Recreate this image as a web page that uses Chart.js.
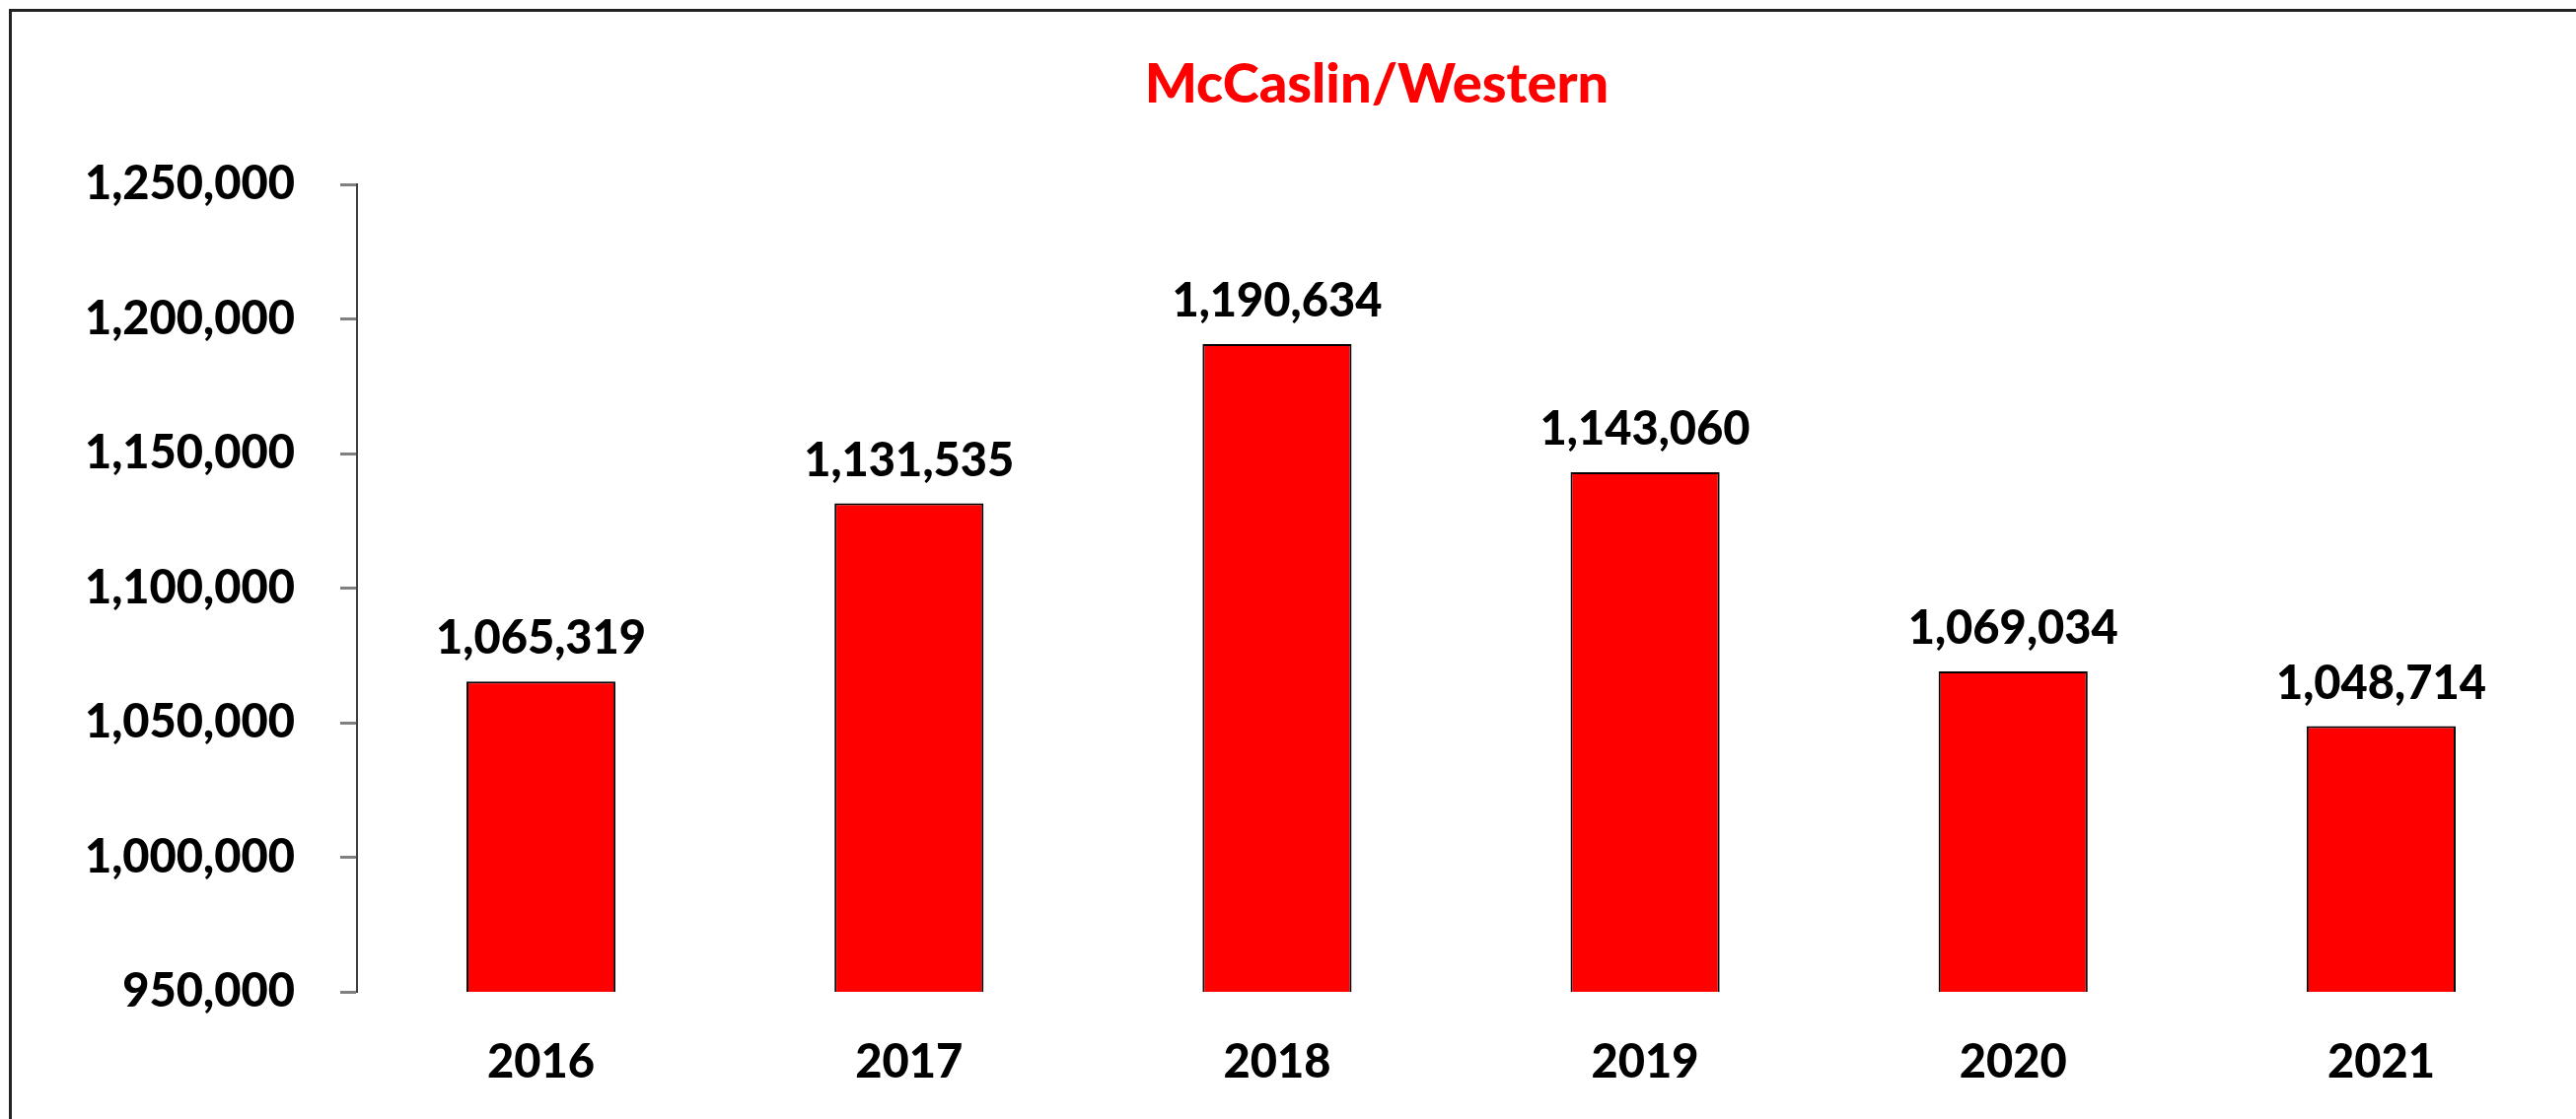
<!DOCTYPE html>
<html>
<head>
<meta charset="utf-8">
<script src="https://cdn.jsdelivr.net/npm/chart.js@4/dist/chart.umd.min.js"></script>
<style>
  html, body { margin: 0; padding: 0; background: #ffffff; }
  #wrap { position: relative; width: 2612px; height: 1135px; overflow: hidden; }
  #frame { position: absolute; left: 9px; top: 9px; width: 2700px; height: 1200px;
           border-left: 3px solid #222; border-top: 3px solid #222; pointer-events: none; }
  canvas { position: absolute; left: 0; top: 0; }
</style>
</head>
<body>
<div id="wrap">
  <canvas id="c" width="2612" height="1135"></canvas>
  <div id="frame"></div>
</div>
<script>
const chartTitle = "McCaslin/Western";
const categories = ["2016", "2017", "2018", "2019", "2020", "2021"];
const values = [1065319, 1131535, 1190634, 1143060, 1069034, 1048714];
const yMin = 950000;
const yMax = 1250000;
const yStep = 50000;

const FONT = "Lato";
const WEIGHT = "900";
const fmt = v => Number(v).toLocaleString("en-US");

const valueLabels = {
  id: "valueLabels",
  afterDatasetsDraw(chart) {
    const ctx = chart.ctx;
    const meta = chart.getDatasetMeta(0);
    ctx.save();
    ctx.font = WEIGHT + " 47px " + FONT;
    ctx.fillStyle = "#000000";
    ctx.textAlign = "center";
    ctx.textBaseline = "middle";
    meta.data.forEach((bar, i) => {
      ctx.fillText(fmt(values[i]), bar.x, bar.y - 43);
    });
    ctx.restore();
  }
};

const titlePlugin = {
  id: "customTitle",
  afterDraw(chart) {
    const ctx = chart.ctx;
    ctx.save();
    ctx.font = WEIGHT + " 56px " + FONT;
    ctx.fillStyle = "#FF0000";
    ctx.textAlign = "center";
    ctx.textBaseline = "middle";
    ctx.fillText(chartTitle, 1396, 86);
    ctx.restore();
  }
};

new Chart(document.getElementById("c"), {
  type: "bar",
  data: {
    labels: categories,
    datasets: [{
      data: values,
      backgroundColor: "#FF0000",
      borderColor: "#000000",
      borderWidth: 2,
      borderSkipped: false,
      categoryPercentage: 1.0,
      barPercentage: 0.405
    }]
  },
  options: {
    responsive: false,
    animation: false,
    devicePixelRatio: 1,
    layout: { padding: { top: 187, right: 11, left: 0, bottom: 0 } },
    plugins: {
      legend: { display: false },
      tooltip: { enabled: false },
      title: { display: false }
    },
    scales: {
      x: {
        grid: { display: false, drawTicks: false },
        border: { display: false },
        ticks: {
          color: "#000000",
          font: { family: FONT, size: 47, weight: WEIGHT },
          padding: 44,
          maxRotation: 0
        },
        afterFit(s) { s.height = 129; }
      },
      y: {
        min: yMin,
        max: yMax,
        grid: {
          drawOnChartArea: false,
          drawTicks: true,
          tickLength: 17,
          tickColor: "#808080",
          tickWidth: 3
        },
        border: { display: true, color: "#404040", width: 2 },
        ticks: {
          stepSize: yStep,
          color: "#000000",
          font: { family: FONT, size: 47, weight: WEIGHT },
          padding: 46,
          callback: v => fmt(v)
        },
        afterFit(s) { s.width = 362; }
      }
    }
  },
  plugins: [valueLabels, titlePlugin]
});
</script>
</body>
</html>
